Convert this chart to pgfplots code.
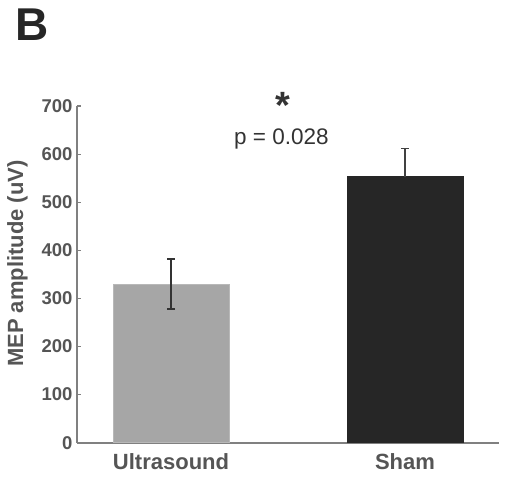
\documentclass[border=0pt]{standalone}
\usepackage{fontspec}
\setmainfont{Liberation Sans}
\usepackage{pgfplots}
\pgfplotsset{compat=1.18}
\definecolor{axisgray}{HTML}{808080}
\definecolor{labgray}{HTML}{555555}
\definecolor{barlight}{HTML}{A6A6A6}
\definecolor{bardark}{HTML}{262626}
\definecolor{errgray}{HTML}{333333}
\begin{document}
\begin{tikzpicture}[x=1pt,y=1pt]
\path[use as bounding box] (-77,-47.3) rectangle (437,442.7);
\begin{axis}[
  at={(0,0)}, anchor=south west,
  scale only axis, width=422pt, height=336.7pt,
  xmin=-0.402, xmax=1.402, ymin=0, ymax=700,
  axis x line*=bottom, axis y line*=left,
  axis line style={-, draw=axisgray, line width=1.6pt},
  ytick={0,100,200,300,400,500,600,700},
  xtick={0,1}, xticklabels={Ultrasound,Sham},
  tick align=inside, major tick length=4.5pt,
  ytick style={draw=axisgray, line width=1.2pt},
  xtick style={draw=none},
  /pgf/number format/assume math mode=true,
  yticklabel style={font=\fontsize{18.5}{20}\selectfont\bfseries, text=labgray, xshift=-1pt},
  xticklabel style={font=\fontsize{22}{24}\selectfont\bfseries, text=labgray, yshift=-3pt},
  ylabel={MEP amplitude (uV)},
  every axis y label/.style={at={([xshift=-49pt]rel axis cs:0,0.532)}, rotate=90, anchor=south, inner sep=0pt,
     font=\fontsize{22}{24}\selectfont\bfseries, text=labgray},
  clip=false,
  ybar, bar width=116pt,
]
\addplot[bar shift=0pt, fill=barlight, draw=barlight!80!white, line width=0.6pt,
  error bars/.cd, y dir=both, y explicit,
  error bar style={draw=errgray, line width=1.3pt},
  error mark options={draw=errgray, line width=1.3pt, mark size=4pt, rotate=90}]
  coordinates {(0,330) +- (0,52)};
\addplot[bar shift=0pt, fill=bardark, draw=bardark, line width=0.6pt,
  error bars/.cd, y dir=plus, y explicit,
  error bar style={draw=errgray!60!labgray, line width=1.3pt},
  error mark options={draw=errgray!60!labgray, line width=1.3pt, mark size=4pt, rotate=90}]
  coordinates {(1,553) +- (0,58)};
\node[anchor=base, inner sep=0pt, text=errgray, font=\fontsize{22.5}{24}\selectfont] at (axis cs:0.472,621) {p = 0.028};
\node[anchor=base, inner sep=0pt, text=errgray, font=\fontsize{38}{40}\selectfont\bfseries] at (axis cs:0.479,674) {*};
\end{axis}
\node[anchor=base west, inner sep=0pt, text=bardark, font=\fontsize{46}{48}\selectfont\bfseries] at (-61.5,401.7) {B};
\end{tikzpicture}
\end{document}
